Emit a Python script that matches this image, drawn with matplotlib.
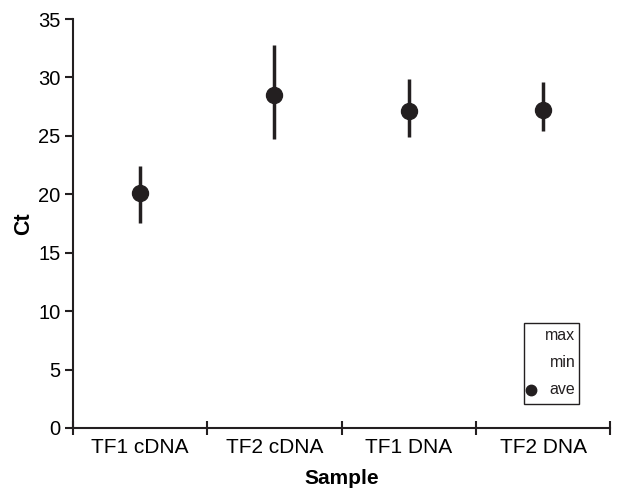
import matplotlib
matplotlib.use("Agg")
import matplotlib.pyplot as plt
from matplotlib.patches import Rectangle
import numpy as np

plt.rcParams["font.family"] = ["Liberation Sans", "DejaVu Sans"]

samples = ["TF1 cDNA", "TF2 cDNA", "TF1 DNA", "TF2 DNA"]
ave_ct = [20.1, 28.5, 27.1, 27.25]
max_ct = [22.45, 32.8, 29.9, 29.65]
min_ct = [17.55, 24.7, 24.9, 25.4]
legend_labels = ["max", "min", "ave"]

INK = "#231f20"

fig = plt.figure(figsize=(6.17, 4.88), dpi=100)
ax = fig.add_axes([0.118, 0.123, 0.871, 0.838])

x = np.arange(1, len(samples) + 1)
ax.vlines(x, min_ct, max_ct, color=INK, linewidth=2.5)
ax.plot(x, ave_ct, "o", color=INK, markersize=11.5, zorder=3)

ax.set_xlim(0.5, len(samples) + 0.5)
ax.set_ylim(0, 35)
ax.set_yticks(np.arange(0, 36, 5))
ax.set_xticks(np.arange(0.5, len(samples) + 1, 1))
ax.set_xticklabels([])
ax.set_xticks(x, minor=True)
ax.set_xticklabels(samples, minor=True, fontsize=15)
ax.tick_params(axis="x", which="minor", length=0, pad=7)
ax.tick_params(axis="x", which="major", direction="inout", length=10, width=1.5, color=INK)
ax.tick_params(axis="y", direction="out", length=6, width=1.5, labelsize=14.5, pad=3, color=INK)

for s in ["top", "right"]:
    ax.spines[s].set_visible(False)
for s in ["left", "bottom"]:
    ax.spines[s].set_linewidth(1.5)
    ax.spines[s].set_color(INK)

ax.set_xlabel("Sample", fontsize=15, fontweight="bold", labelpad=9)
ax.set_ylabel("Ct", fontsize=15.5, fontweight="bold", labelpad=3)

# legend box drawn by hand: labels right-aligned, only "ave" has a marker
ax.add_patch(Rectangle((0.840, 0.059), 0.102, 0.198, transform=ax.transAxes,
                       fill=False, edgecolor=INK, linewidth=1.0, clip_on=False))
for lab, ty in zip(legend_labels, [0.225, 0.159, 0.093]):
    ax.text(0.935, ty, lab, transform=ax.transAxes, ha="right", va="center",
            fontsize=11.5, color=INK)
ax.plot([0.853], [0.093], "o", color=INK, markersize=7.5,
        transform=ax.transAxes, clip_on=False)

fig.savefig("out.png", dpi=100)
